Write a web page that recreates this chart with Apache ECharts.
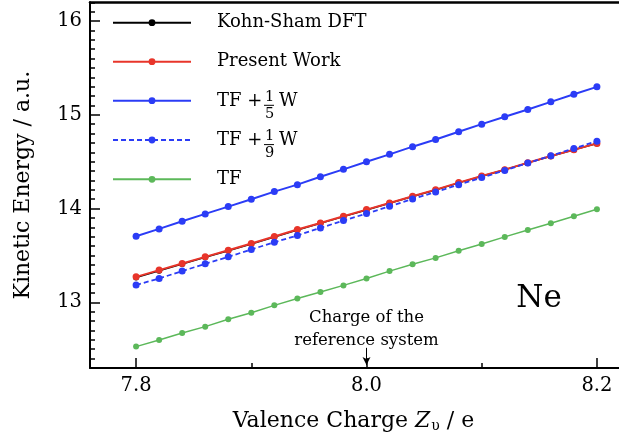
<!DOCTYPE html>
<html>
<head>
<meta charset="utf-8">
<script src="https://cdn.jsdelivr.net/npm/echarts@6/dist/echarts.min.js"></script>
<style>
  html, body { margin: 0; padding: 0; background: #fff; }
  #chart { width: 619px; height: 443px; }
</style>
</head>
<body>
<div id="chart"></div>
<script>
// valence charge Z_v (e)
const charge = [7.80, 7.82, 7.84, 7.86, 7.88, 7.90, 7.92, 7.94, 7.96, 7.98, 8.00,
  8.02, 8.04, 8.06, 8.08, 8.10, 8.12, 8.14, 8.16, 8.18, 8.20]
// kinetic energy (a.u.)
const kohnSham = [13.265, 13.337, 13.409, 13.480, 13.551, 13.623, 13.697, 13.772, 13.843, 13.914, 13.985,
  14.057, 14.128, 14.199, 14.274, 14.345, 14.413, 14.487, 14.558, 14.627, 14.693]
const presentWork = [13.272, 13.344, 13.415, 13.485, 13.556, 13.628, 13.702, 13.777, 13.847, 13.918, 13.989,
  14.060, 14.131, 14.202, 14.277, 14.347, 14.415, 14.489, 14.560, 14.628, 14.695]
const tfFifthW = [13.705, 13.783, 13.865, 13.943, 14.021, 14.099, 14.181, 14.255, 14.340, 14.418, 14.500,
  14.578, 14.660, 14.737, 14.819, 14.900, 14.979, 15.056, 15.138, 15.219, 15.298]
const tfNinthW = [13.184, 13.255, 13.333, 13.411, 13.485, 13.564, 13.641, 13.713, 13.794, 13.872, 13.947,
  14.024, 14.102, 14.177, 14.255, 14.330, 14.407, 14.485, 14.564, 14.641, 14.719]
const tf = [12.528, 12.599, 12.674, 12.741, 12.819, 12.889, 12.968, 13.042, 13.110, 13.181, 13.255,
  13.333, 13.407, 13.474, 13.551, 13.623, 13.698, 13.772, 13.844, 13.918, 13.992]

const xMajorTicks = [7.8, 8.0, 8.2]
const xMinorTicks = [7.9, 8.1]
const yMajorTicks = [13, 14, 15, 16]
const yMinorTicks = []
for (let v = 123; v <= 162; v++) yMinorTicks.push(v / 10)

// arrow marking the reference system
const refArrow = [[8.0, 12.515], [8.0, 12.331]]

const FONT = 'DejaVu Serif'

function pairs (ys) {
  return charge.map((x, i) => [x, ys[i]])
}

const chart = echarts.init(document.getElementById('chart'))

function makeLegend (name, center, fraction) {
  const leg = {
    data: [name],
    orient: 'vertical',
    left: 112,
    top: center - 9,
    padding: 0,
    itemWidth: 78,
    itemHeight: 8.5,
    selectedMode: false,
    textStyle: {
      fontFamily: FONT,
      fontSize: 18,
      lineHeight: 18,
      color: '#000',
      padding: [0, 0, 0, 21]
    }
  }
  if (fraction) {
    // stacked fraction: numerator line, "TF + — W" line, denominator line
    leg.top = center - 17.9
    leg.formatter = () => '{sp|}{num|1}\n{a|TF +}{bar|}{w|W}\n{sp|}{den|' + fraction + '}'
    leg.textStyle.padding = [9.8, 0, 0, 21]
    leg.textStyle.rich = {
      sp: { width: 48, lineHeight: 1 },
      num: { fontFamily: FONT, fontSize: 14.5, lineHeight: 8.7, width: 9, color: '#000' },
      den: { fontFamily: FONT, fontSize: 14.5, lineHeight: 9.3, width: 9, color: '#000' },
      a: { fontFamily: FONT, fontSize: 18, lineHeight: 8, width: 47, padding: [0, 0, 8, 0], color: '#000' },
      bar: { width: 10, height: 1, lineHeight: 8, backgroundColor: '#000' },
      w: { fontFamily: FONT, fontSize: 18, lineHeight: 8, padding: [0, 0, 8, 5], color: '#000' }
    }
  }
  return leg
}

const axisLineStyle = { color: '#000', width: 2 }

const option = {
  animation: false,
  backgroundColor: '#fff',
  grid: { left: 90, top: 2.25, right: -24, bottom: 75, outerBoundsMode: 'none' },
  legend: [
    makeLegend('Kohn-Sham DFT', 22.7),
    makeLegend('Present Work', 61.7),
    makeLegend('TF + 1/5 W', 100.7, '5'),
    makeLegend('TF + 1/9 W', 140, '9'),
    makeLegend('TF', 179.3)
  ],
  xAxis: [{
    type: 'value',
    min: 7.76,
    max: 8.24,
    position: 'bottom',
    splitLine: { show: false },
    axisLine: { lineStyle: axisLineStyle },
    axisTick: { inside: true, length: 10, customValues: xMajorTicks, lineStyle: { color: '#000', width: 1.5 } },
    axisLabel: {
      customValues: xMajorTicks,
      formatter: v => v.toFixed(1),
      margin: 8,
      color: '#000',
      fontFamily: FONT,
      fontSize: 19.5
    },
    name: '{t|Valence Charge }{z|Z}{s|υ}{t| / e}',
    nameLocation: 'middle',
    nameGap: 42,
    nameTextStyle: {
      color: '#000',
      padding: [0, 26, 0, 0],
      rich: {
        t: { fontFamily: FONT, fontSize: 22, color: '#000' },
        z: { fontFamily: FONT, fontSize: 22, fontStyle: 'italic', color: '#000' },
        s: { fontFamily: FONT, fontSize: 14, padding: [9, 0, 0, 1], color: '#000' }
      }
    }
  }, {
    type: 'value',
    min: 7.76,
    max: 8.24,
    position: 'bottom',
    splitLine: { show: false },
    axisLine: { show: false },
    axisTick: { inside: true, length: 5, customValues: xMinorTicks, lineStyle: { color: '#000', width: 1.5 } },
    axisLabel: { show: false }
  }, {
    type: 'value',
    min: 7.76,
    max: 8.24,
    position: 'top',
    splitLine: { show: false },
    axisLine: { lineStyle: { color: '#000', width: 2.5 } },
    axisTick: { show: false },
    axisLabel: { show: false }
  }],
  yAxis: [{
    type: 'value',
    min: 12.3,
    max: 16.2,
    position: 'left',
    splitLine: { show: false },
    axisLine: { lineStyle: axisLineStyle },
    axisTick: { inside: true, length: 10, customValues: yMajorTicks, lineStyle: { color: '#000', width: 1.5 } },
    axisLabel: {
      customValues: yMajorTicks,
      margin: 8,
      color: '#000',
      fontFamily: FONT,
      fontSize: 19.5
    },
    name: 'Kinetic Energy / a.u.',
    nameLocation: 'middle',
    nameGap: 56,
    nameTextStyle: { color: '#000', fontFamily: FONT, fontSize: 22 }
  }, {
    type: 'value',
    min: 12.3,
    max: 16.2,
    position: 'left',
    splitLine: { show: false },
    axisLine: { show: false },
    axisTick: { inside: true, length: 5, customValues: yMinorTicks, lineStyle: { color: '#000', width: 1.5 } },
    axisLabel: { show: false }
  }],
  series: [{
    name: 'Kohn-Sham DFT',
    type: 'line',
    data: pairs(kohnSham),
    symbol: 'circle',
    symbolSize: 6,
    color: '#000',
    lineStyle: { width: 1.5 },
    markLine: {
      silent: true,
      symbol: ['none', 'arrow'],
      symbolSize: [6, 8],
      lineStyle: { color: '#000', width: 1, type: 'solid' },
      label: {
        show: true,
        position: 'start',
        distance: -4,
        formatter: 'Charge of the\nreference system',
        color: '#000',
        fontFamily: FONT,
        fontSize: 16.5,
        lineHeight: 23
      },
      data: [[{ coord: refArrow[0] }, { coord: refArrow[1] }]]
    }
  }, {
    name: 'Present Work',
    type: 'line',
    data: pairs(presentWork),
    symbol: 'circle',
    symbolSize: 7,
    color: '#e8352a',
    lineStyle: { width: 2 }
  }, {
    name: 'TF + 1/5 W',
    type: 'line',
    data: pairs(tfFifthW),
    symbol: 'circle',
    symbolSize: 7,
    color: '#2b3cf6',
    lineStyle: { width: 2 }
  }, {
    name: 'TF + 1/9 W',
    type: 'line',
    data: pairs(tfNinthW),
    symbol: 'circle',
    symbolSize: 7,
    color: '#2b3cf6',
    lineStyle: { width: 1.8, type: [5, 3] }
  }, {
    name: 'TF',
    type: 'line',
    data: pairs(tf),
    symbol: 'circle',
    symbolSize: 6,
    color: '#5cb85a',
    lineStyle: { width: 1.5 }
  }],
  graphic: [{
    type: 'text',
    x: 539,
    y: 299,
    style: {
      text: 'Ne',
      fill: '#000',
      font: '31px "DejaVu Serif"',
      align: 'center',
      verticalAlign: 'middle'
    }
  }]
}

chart.setOption(option)
</script>
</body>
</html>
